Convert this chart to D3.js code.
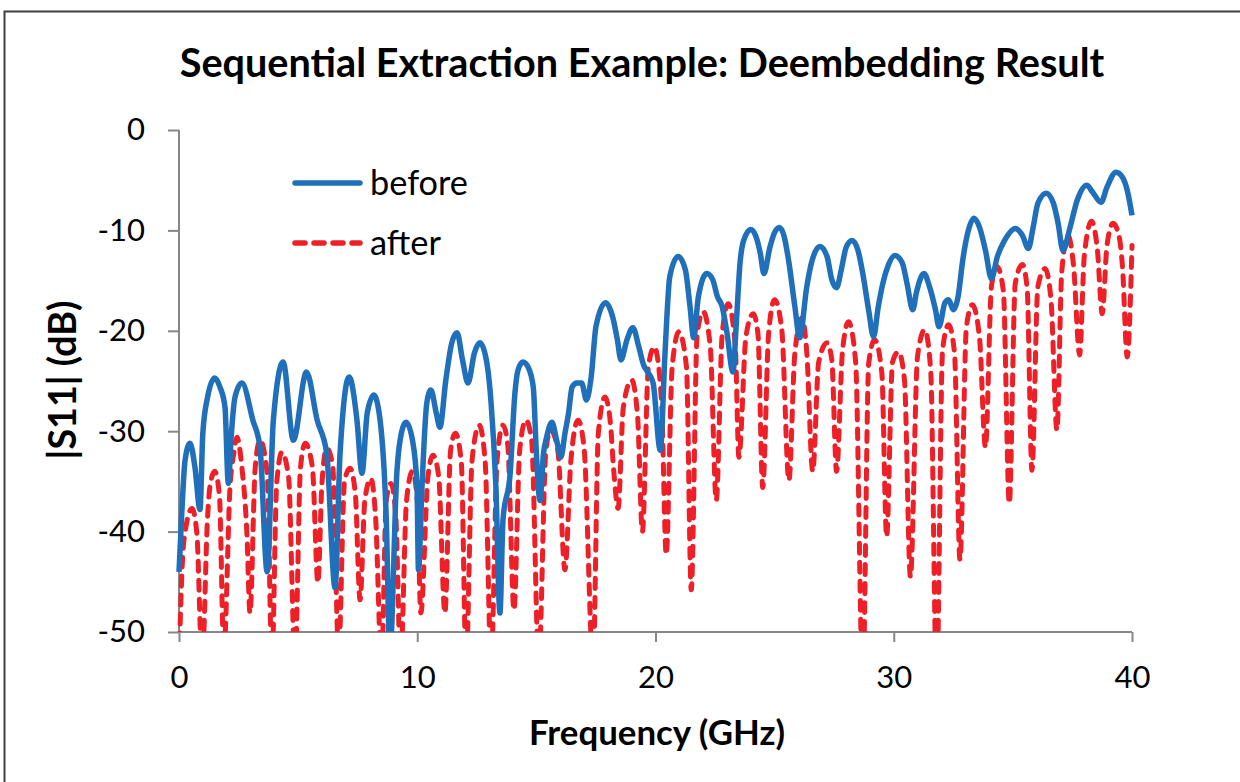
<!DOCTYPE html>
<html>
<head>
<meta charset="utf-8">
<script src="https://cdn.jsdelivr.net/npm/d3@7"></script>
<style>
  html, body { margin: 0; padding: 0; background: #fff; }
  svg { display: block; }
  text { font-family: Lato, "Open Sans", "DejaVu Sans", sans-serif; fill: #000; }
</style>
</head>
<body>
<svg id="chart" width="1240" height="782"></svg>
<script>
// ---------- data ----------
const titleText = "Sequential Extraction Example: Deembedding Result";
const xTitle = "Frequency (GHz)";
const yTitle = "|S11| (dB)";
const xTicks = [0, 10, 20, 30, 40];
const yTicks = [0, -10, -20, -30, -40, -50];
const seriesNames = ["before", "after"];

const beforeFreq = [0,0.12,0.25,0.46,0.67,0.88,1.0,1.2,1.5,1.72,1.93,2.07,2.2,2.35,2.64,3.1,3.4,3.7,3.96,4.37,4.8,5.35,5.8,6.2,6.55,6.76,7.14,7.47,7.68,7.9,8.18,8.44,8.7,8.85,9.15,9.28,9.53,9.8,9.99,10.05,10.2,10.4,10.57,10.8,10.95,11.2,11.45,11.67,11.9,12.13,12.4,12.63,12.9,13.1,13.3,13.47,13.6,13.9,14.1,14.23,14.44,14.65,14.87,15.0,15.15,15.3,15.43,15.65,15.85,16.03,16.2,16.35,16.5,16.7,16.9,17.1,17.3,17.5,17.9,18.2,18.4,18.55,18.8,19.05,19.3,19.5,19.7,19.9,20.2,20.4,20.6,20.95,21.25,21.45,21.6,21.8,22.15,22.4,22.6,22.8,23.0,23.25,23.4,23.55,23.7,24.0,24.2,24.4,24.55,24.8,25.0,25.2,25.4,25.6,25.85,26.05,26.35,26.55,26.9,27.2,27.4,27.6,27.8,28.0,28.25,28.5,28.7,28.95,29.15,29.35,29.55,29.75,30.05,30.35,30.55,30.8,30.95,31.27,31.5,31.75,31.9,32.15,32.3,32.5,32.7,32.9,33.1,33.37,33.6,33.85,34.1,34.35,34.65,35.1,35.4,35.65,35.85,36.05,36.4,36.7,36.9,37.1,37.4,37.7,38.1,38.35,38.7,38.95,39.33,39.6,39.8,40];
const beforeDb = [-44,-38,-33,-31.2,-33.6,-37.8,-30.2,-26.6,-24.7,-25.6,-27.6,-35.2,-30.2,-26.6,-25.2,-28.9,-31.6,-44,-28.9,-23.1,-30.9,-24.1,-28.9,-32.2,-45.6,-32.2,-24.6,-28.9,-34.2,-28.2,-26.4,-28.9,-38.8,-52,-33.9,-30.9,-29.1,-30.9,-35.5,-43.8,-35.5,-27.2,-25.9,-28.2,-29.6,-24.9,-21.2,-20.2,-22.9,-25.2,-22.2,-21.2,-22.9,-27.2,-35.5,-48.1,-38.8,-34.2,-26.2,-23.9,-23.1,-23.6,-25.6,-32.2,-36.9,-32.2,-30.6,-29.1,-30.9,-32.6,-30.2,-28.2,-25.6,-25.2,-25.2,-26.9,-24.6,-19.6,-17.2,-18.6,-20.9,-22.9,-20.9,-19.7,-21.6,-23.4,-24.2,-25.2,-31.9,-22.2,-14.6,-12.6,-13.9,-17.6,-20.7,-16.6,-14.3,-14.9,-16.6,-17.6,-20.2,-24.1,-18.9,-13.2,-11.0,-9.9,-10.5,-12.3,-14.3,-11.7,-10.2,-9.7,-10.6,-13.2,-17.6,-20.7,-15.6,-13.2,-11.6,-12.6,-14.9,-15.7,-13.9,-11.7,-11.0,-12.0,-14.3,-18,-20.6,-17.6,-15.2,-13.6,-12.5,-13.2,-15.2,-17.9,-16.2,-14.3,-15.6,-17.9,-19.6,-17.2,-16.9,-17.9,-16.6,-12.9,-10.3,-8.8,-9.7,-12.0,-14.8,-12.6,-11.0,-9.8,-10.5,-11.8,-9.7,-7.3,-6.3,-7.3,-9.3,-12.0,-9.7,-7.0,-5.5,-6.2,-7.2,-5.7,-4.2,-4.7,-6.0,-8.5];

const afterFreq = [0,0.2,0.55,0.75,0.97,1.2,1.3,1.5,1.7,1.88,2.15,2.3,2.43,2.64,2.85,2.98,3.2,3.4,3.7,3.9,4.1,4.32,4.6,4.87,5.1,5.3,5.6,5.83,6.0,6.2,6.45,6.7,6.95,7.18,7.4,7.6,7.8,8.05,8.25,8.5,8.7,8.9,9.1,9.3,9.55,9.8,10.0,10.15,10.45,10.66,10.9,11.16,11.4,11.6,11.85,12.05,12.3,12.6,12.85,13.1,13.35,13.6,13.8,14.06,14.3,14.56,14.8,15.1,15.4,15.6,15.9,16.2,16.45,16.75,17.0,17.38,17.6,17.88,18.1,18.25,18.43,18.65,19.0,19.25,19.45,19.7,19.95,20.25,20.45,20.7,20.98,21.3,21.5,21.75,22.0,22.3,22.55,22.8,23.05,23.35,23.5,23.8,24.1,24.3,24.5,24.75,25.0,25.3,25.6,25.85,26.15,26.35,26.6,26.85,27.2,27.4,27.6,27.85,28.1,28.4,28.7,28.95,29.2,29.5,29.7,29.95,30.2,30.45,30.7,31.0,31.3,31.55,31.8,32.05,32.3,32.55,32.78,33.05,33.3,33.6,33.85,34.1,34.33,34.6,34.85,35.1,35.4,35.6,35.8,36.05,36.35,36.6,36.85,37.05,37.3,37.55,37.8,38.0,38.3,38.55,38.75,38.95,39.2,39.45,39.6,39.8,40];
const afterDb = [-53,-41,-37.7,-40.2,-53,-38.5,-35.5,-34.0,-36.5,-52,-35.2,-32.2,-30.6,-33.6,-40.2,-48.1,-33.6,-30.9,-34.2,-53,-35.2,-32.1,-34.6,-53,-33.6,-31.2,-33.6,-45.1,-35.2,-31.7,-33.4,-52,-34.9,-33.7,-36.2,-46.8,-36.9,-34.7,-38.5,-53,-36.9,-35.2,-38.5,-53,-36.9,-34.0,-36.9,-48.1,-34.5,-32.4,-34.5,-48.1,-31.9,-30.2,-33.1,-53,-32.9,-29.4,-33,-53,-32.9,-29.4,-31.4,-47.8,-31.9,-28.9,-30.9,-53,-31.9,-29.9,-31.9,-43.8,-32.9,-28.9,-31.6,-53,-30.2,-26.6,-29,-34,-37.7,-27.6,-24.9,-28.6,-40.0,-23.6,-21.6,-26.9,-42.3,-23.6,-20.1,-23.6,-45.8,-20.3,-18.1,-21.6,-36.9,-20.3,-17.3,-21.6,-32.6,-20.5,-18.3,-20.3,-35.6,-20.2,-16.9,-19.9,-34.9,-22.2,-18.7,-22.2,-34.0,-23.1,-21.2,-22.9,-34.0,-22,-19.1,-23.1,-55,-23.2,-20.9,-24.2,-40.5,-23.1,-22.1,-24.9,-44.5,-22.5,-19.9,-23.9,-55,-21.9,-19.4,-22.2,-42.8,-19.6,-17.4,-20.7,-31.6,-15.6,-13.6,-16,-37.2,-15.3,-13.4,-15.8,-33.9,-15.6,-13.8,-16.9,-29.9,-14.2,-10.5,-13.6,-22.4,-12.5,-9.1,-12,-18.3,-11.5,-9.3,-10.5,-13.6,-22.6,-11.5];

// ---------- layout ----------
const svg = d3.select("#chart");
const plot = { left: 179, right: 1132, top: 130, bottom: 632 };
const x = d3.scaleLinear().domain([0, 40]).range([plot.left, plot.right]);
const y = d3.scaleLinear().domain([-50, 0]).range([plot.bottom, plot.top]);
const blue = "#1F6FBA", red = "#EE1F26", axisGray = "#878787";

// outer chart border
svg.append("rect").attr("x", 4.5).attr("y", 11.5).attr("width", 1400).attr("height", 1000)
  .attr("fill", "none").attr("stroke", "#3f3f3f").attr("stroke-width", 2);

function fit(sel, target) {
  const w = sel.node().getComputedTextLength();
  const fs = parseFloat(sel.attr("font-size"));
  sel.attr("font-size", fs * target / w);
}

// title
const t = svg.append("text").attr("x", 642).attr("y", 77).attr("text-anchor", "middle")
  .attr("font-weight", "bold").attr("font-size", 32).text(titleText);
fit(t, 925);

// axes
const fmt = d => String(d);
const yAxis = d3.axisLeft(y).tickValues(yTicks).tickSize(11).tickPadding(23).tickFormat(fmt);
const gy = svg.append("g").attr("transform", `translate(${plot.left},0)`).call(yAxis);
const xAxis = d3.axisBottom(x).tickValues(xTicks).tickSize(10).tickPadding(24).tickFormat(fmt);
const gx = svg.append("g").attr("transform", `translate(0,${plot.bottom})`).call(xAxis);
[gx, gy].forEach(g => {
  g.select(".domain").attr("stroke", axisGray).attr("stroke-width", 2);
  g.selectAll(".tick line").attr("stroke", axisGray).attr("stroke-width", 2);
  g.selectAll(".tick text").attr("font-size", 31).attr("font-family", "Lato, sans-serif").attr("fill", "#000");
});
gx.select(".domain").attr("d", `M${plot.left},0H${plot.right}`);
gy.select(".domain").attr("d", `M0,${plot.bottom}V${plot.top}`);

// axis titles
const xt = svg.append("text").attr("x", 657).attr("y", 745).attr("text-anchor", "middle")
  .attr("font-weight", "bold").attr("font-size", 30).text(xTitle);
fit(xt, 256);
const yt = svg.append("text").attr("transform", "translate(76,380) rotate(-90)").attr("text-anchor", "middle")
  .attr("font-weight", "bold").attr("font-size", 30).text(yTitle);
fit(yt, 159);

// clip
svg.append("clipPath").attr("id", "clip").append("rect")
  .attr("x", plot.left - 4).attr("y", plot.top - 10).attr("width", plot.right - plot.left + 10).attr("height", plot.bottom - plot.top + 10);

const line = d3.line().x(d => x(d[0])).y(d => y(d[1])).curve(d3.curveMonotoneX);
const beforeData = d3.zip(beforeFreq, beforeDb);
const afterData = d3.zip(afterFreq, afterDb);

const lines = svg.append("g").attr("clip-path", "url(#clip)");
lines.append("path").datum(afterData).attr("d", line).attr("fill", "none")
  .attr("stroke", red).attr("stroke-width", 5).attr("stroke-dasharray", "10,9").attr("stroke-linecap", "round");
lines.append("path").datum(beforeData).attr("d", line).attr("fill", "none")
  .attr("stroke", blue).attr("stroke-width", 5.5).attr("stroke-linejoin", "round");

// legend
const legend = svg.append("g");
const legY = [183, 243];
const legW = [98, 71];
const legStyles = [{ c: blue, dash: null }, { c: red, dash: "10,9" }];
seriesNames.forEach((name, i) => {
  legend.append("line").attr("x1", 295).attr("x2", 360).attr("y1", legY[i]).attr("y2", legY[i])
    .attr("stroke", legStyles[i].c).attr("stroke-width", 5.5).attr("stroke-linecap", "round")
    .attr("stroke-dasharray", legStyles[i].dash);
  const lt = legend.append("text").attr("x", 370).attr("y", legY[i]).attr("dy", "0.35em")
    .attr("font-size", 30).text(name);
  fit(lt, legW[i]);
});
</script>
</body>
</html>
